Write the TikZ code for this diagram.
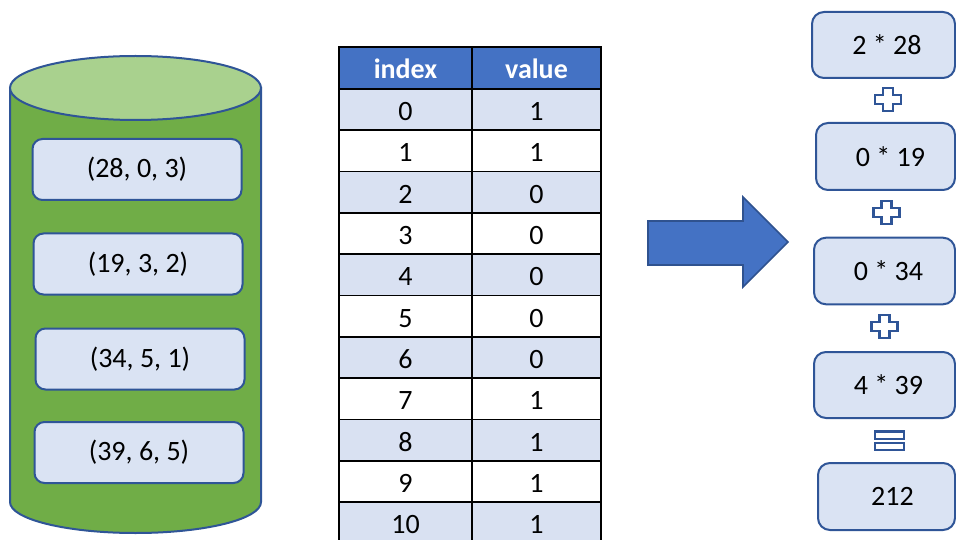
\documentclass[tikz,border=0pt]{standalone}
\usepackage{fontspec}
\setmainfont{Carlito}
\definecolor{boxfill}{HTML}{DAE3F3}
\definecolor{boxline}{HTML}{2F5597}
\definecolor{cylbody}{HTML}{70AD47}
\definecolor{cyltop}{HTML}{A9D18E}
\definecolor{headblue}{HTML}{4472C4}
\definecolor{rowlight}{HTML}{D9E1F2}
\definecolor{arrowline}{HTML}{2F528F}
\tikzset{
  tuplebox/.style={draw=boxline, line width=2pt, fill=boxfill, rounded corners=10pt,
    minimum width=209pt, minimum height=61pt, inner sep=0pt},
  termbox/.style={draw=boxline, line width=2pt, fill=boxfill, rounded corners=12pt,
    inner sep=0pt},
  celltext/.style={inner sep=0pt, text=black},
  headtext/.style={inner sep=0pt, text=white, font=\fontsize{28}{34}\selectfont\bfseries},
  signline/.style={draw=boxline, line width=2.4pt, fill=white, line join=miter},
  plussign/.pic={
    \path[signline] (-5,-11.5) -- (5,-11.5) -- (5,-4.5) -- (13,-4.5) -- (13,4.5) -- (5,4.5)
      -- (5,11.5) -- (-5,11.5) -- (-5,4.5) -- (-13,4.5) -- (-13,-4.5) -- (-5,-4.5) -- cycle;
  },
}
\begin{document}
\begin{tikzpicture}[x=1pt, y=-1pt, font=\fontsize{28}{34}\selectfont]
\useasboundingbox (0,0) rectangle (956,540);

% storage cylinder
\path[fill=cylbody, draw=boxline, line width=2pt]
  (10,88) -- (10,502) arc[start angle=180, end angle=360, x radius=125.5pt, y radius=31pt]
  -- (261,88) -- cycle;
\path[fill=cyltop, draw=boxline, line width=2pt]
  (135.5,88) ellipse[x radius=125.5pt, y radius=32pt];

% tuples stored in the cylinder
\node[tuplebox] (t1) at (137,169.5) {(28, 0, 3)};
\node[tuplebox] (t2) at (138,264)   {(19, 3, 2)};
\node[tuplebox] (t3) at (140,359)   {(34, 5, 1)};
\node[tuplebox] (t4) at (139,452.5) {(39, 6, 5)};

% lookup table
\fill[headblue] (339,47) rectangle (601,89);
\node[headtext] (hidx) at (405.5,68.5) {index};
\node[headtext] (hval) at (536.5,68.5) {value};
\foreach \v [count=\k from 0] in {1,1,0,0,0,0,0,1,1,1,1} {
  \pgfmathsetmacro{\ytop}{89+41.3*\k}
  \pgfmathsetmacro{\ymid}{\ytop+20.65}
  \pgfmathtruncatemacro{\even}{mod(\k,2)==0}
  \ifnum\even=1
    \fill[rowlight] (339,\ytop) rectangle (601,\ytop+41.3);
  \fi
  \node[celltext] (i\k) at (405.5,\ymid+2) {\k};
  \node[celltext] (v\k) at (536.5,\ymid+2) {\v};
}
\begin{scope}[line width=1.8pt, draw=black]
  \draw (339,47) rectangle (601,543.3);
  \draw (472,47) -- (472,543.3);
  \foreach \k in {0,...,10} {
    \draw (339,89+41.3*\k) -- (601,89+41.3*\k);
  }
\end{scope}

% block arrow
\path[fill=headblue, draw=arrowline, line width=1.6pt, line join=miter]
  (648,221) -- (743,221) -- (743,197) -- (788,242) -- (743,287) -- (743,265) -- (648,265) -- cycle;

% products and their sum
\node[termbox, minimum width=143pt, minimum height=66pt] (r1) at (883.5,45) {};
\node[celltext] (r1t) at (887,45) {2 * 28};
\node[termbox, minimum width=139pt, minimum height=67pt] (r2) at (885.5,156.5) {};
\node[celltext] (r2t) at (890.5,156.5) {0 * 19};
\node[termbox, minimum width=141pt, minimum height=66.6pt] (r3) at (884.5,271) {};
\node[celltext] (r3t) at (888.5,271) {0 * 34};
\node[termbox, minimum width=141pt, minimum height=66pt] (r4) at (884.5,385) {};
\node[celltext] (r4t) at (888.5,385) {4 * 39};
\node[termbox, minimum width=137pt, minimum height=67pt] (r5) at (886.5,496.5) {};
\node[celltext] (r5t) at (892.5,496.5) {212};

\pic at (888,99.5) {plussign};
\pic at (886.5,212.5) {plussign};
\pic at (884.5,326.5) {plussign};

% equals sign
\path[signline] (875,431.5) rectangle (904,439);
\path[signline] (875,443) rectangle (904,450);
\end{tikzpicture}
\end{document}
